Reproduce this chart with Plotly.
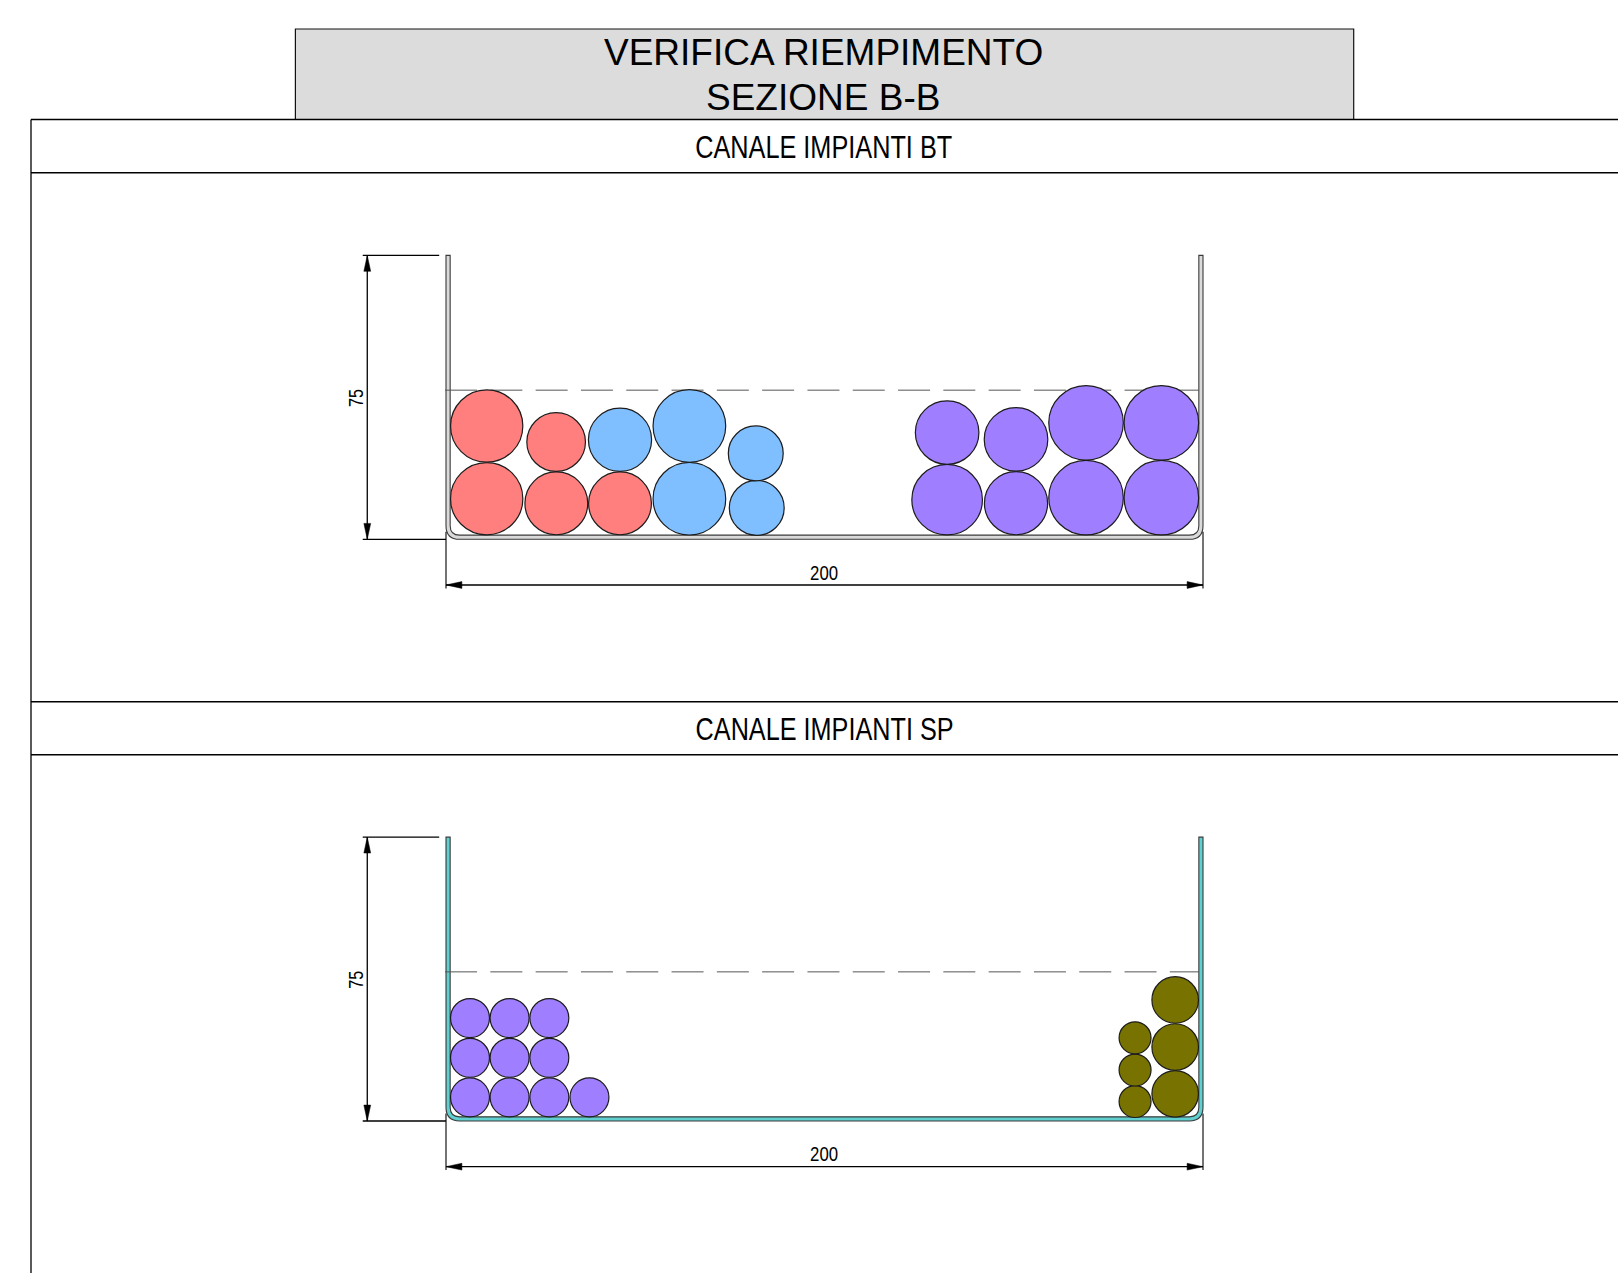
import plotly.graph_objects as go

# --- page size and drawing scale -------------------------------------------
PAGE_W, PAGE_H = 1618, 1273
PX_PER_MM = 3.785
ORIGIN_X_PX = 446.0
BT_BASE_PX = 539.3
SP_BASE_PX = 1121.0

# --- texts ------------------------------------------------------------------
TITLE_LINES = ["VERIFICA RIEMPIMENTO", "SEZIONE B-B"]
SECTION_TITLES = ["CANALE IMPIANTI BT", "CANALE IMPIANTI SP"]
DIM_WIDTH_LABEL = "200"
DIM_HEIGHT_LABEL = "75"

# --- channel dimensions (mm) ------------------------------------------------
CH_W, CH_H = 200.0, 75.0
CH_T = 1.1
CH_R = 3.6
FILL_LEVEL = 39.4

# --- cables: canal BT (mm) --------------------------------------------------
bt_red_x = [10.75, 10.75, 29.15, 29.1, 45.97]
bt_red_y = [10.73, 29.93, 9.5, 25.7, 9.5]
bt_red_d = [19.2, 19.2, 16.7, 15.6, 16.7]

bt_blue_x = [45.97, 64.3, 64.3, 82.1, 81.84]
bt_blue_y = [26.3, 10.73, 29.93, 8.3, 22.7]
bt_blue_d = [16.8, 19.3, 19.3, 14.6, 14.6]

bt_purple_x = [132.4, 132.4, 150.6, 150.6, 169.1, 169.1, 189.0, 189.0]
bt_purple_y = [10.47, 28.2, 9.55, 26.4, 11.0, 30.77, 11.0, 30.77]
bt_purple_d = [18.76, 16.9, 16.8, 16.9, 19.8, 19.8, 19.8, 19.8]

# --- cables: canal SP (mm) --------------------------------------------------
sp_purple_x = [6.34, 16.8, 27.3, 37.9, 6.34, 16.8, 27.3, 6.34, 16.8, 27.3]
sp_purple_y = [6.25, 6.25, 6.25, 6.25, 16.7, 16.7, 16.7, 27.2, 27.2, 27.2]
sp_purple_d = [10.4] * 10

sp_olive_x = [192.65, 192.65, 192.65, 182.05, 182.05, 182.05]
sp_olive_y = [7.18, 19.55, 31.97, 5.15, 13.47, 21.97]
sp_olive_d = [12.4, 12.4, 12.4, 8.55, 8.55, 8.55]

RED, BLUE, PURPLE, OLIVE = "#FF7F7F", "#7FBFFF", "#9F7FFF", "#787300"
CH_GREY, CH_TEAL = "#DADADA", "#5FCFCF"
INK = "#000000"
OUT = "#3A3A3A"


def px_x(px):
    return px / PAGE_W


def px_y(py):
    return 1 - py / PAGE_H


def channel_path():
    w, h, t, r = CH_W, CH_H, CH_T, CH_R
    ri = r - t
    return (
        f"M 0 {h} L 0 {r} Q 0 0 {r} 0 L {w - r} 0 Q {w} 0 {w} {r} L {w} {h} "
        f"L {w - t} {h} L {w - t} {t + ri} Q {w - t} {t} {w - t - ri} {t} "
        f"L {t + ri} {t} Q {t} {t} {t} {t + ri} L {t} {h} Z"
    )


fig = go.Figure()


def add_cables(xs, ys, ds, color, yaxis, name):
    fig.add_trace(
        go.Scatter(
            x=xs, y=ys, mode="markers", yaxis=yaxis, name=name,
            marker=dict(
                size=[d * PX_PER_MM - 0.4 for d in ds], sizemode="diameter",
                color=color, line=dict(color="#1c1c1c", width=1.2), opacity=1,
            ),
            hoverinfo="skip", showlegend=False,
        )
    )


add_cables(bt_red_x, bt_red_y, bt_red_d, RED, "y", "BT rosso")
add_cables(bt_blue_x, bt_blue_y, bt_blue_d, BLUE, "y", "BT azzurro")
add_cables(bt_purple_x, bt_purple_y, bt_purple_d, PURPLE, "y", "BT viola")
add_cables(sp_purple_x, sp_purple_y, sp_purple_d, PURPLE, "y2", "SP viola")
add_cables(sp_olive_x, sp_olive_y, sp_olive_d, OLIVE, "y2", "SP oliva")

shapes = []
annotations = []


def line_paper(x0, y0, x1, y1, width=1.5):
    shapes.append(dict(type="line", xref="paper", yref="paper",
                       x0=px_x(x0), y0=px_y(y0), x1=px_x(x1), y1=px_y(y1),
                       line=dict(color=INK, width=width), layer="below"))


# title box and section frames
shapes.append(dict(type="rect", xref="paper", yref="paper",
                   x0=px_x(295.4), x1=px_x(1353.7), y0=px_y(29), y1=px_y(119.5),
                   fillcolor="#DCDCDC", line=dict(color="#111111", width=1.2), layer="below"))
line_paper(31, 119.5, 31, PAGE_H, 1.3)
for py in (119.5, 172.7, 701.7, 754.7):
    line_paper(31, py, PAGE_W, py, 1.4)


def text(s, x, y, size, angle=0, xref="paper", yref="paper"):
    annotations.append(dict(text=s, x=x, y=y, xref=xref, yref=yref, showarrow=False,
                            xanchor="center", yanchor="middle", textangle=angle,
                            font=dict(family="Liberation Sans", size=size, color="#000000")))


text(TITLE_LINES[0], px_x(823.3), px_y(52.3), 37)
text(TITLE_LINES[1], px_x(823.3), px_y(97.2), 37)
text(SECTION_TITLES[0], px_x(823.6), px_y(147), 32)
text(SECTION_TITLES[1], px_x(824), px_y(728.7), 32)

DIM_X = -20.8
DIM_Y = -12.07
A_L, A_W = 4.2, 0.9


def add_channel(yref, fill):
    def seg(x0, y0, x1, y1, w=1.0, color=INK, dash=None):
        shapes.append(dict(type="line", xref="x", yref=yref, x0=x0, y0=y0, x1=x1, y1=y1,
                           line=dict(color=color, width=w, dash=dash), layer="below"))

    def tri(p):
        shapes.append(dict(type="path", xref="x", yref=yref, path=p,
                           fillcolor=INK, line=dict(color=INK, width=0.5), layer="below"))

    shapes.append(dict(type="path", xref="x", yref=yref, path=channel_path(),
                       fillcolor=fill, line=dict(color=OUT, width=1.1), layer="below"))
    # fill level
    seg(-0.25, FILL_LEVEL, CH_W - CH_T, FILL_LEVEL, 1.0, "#555555", "32px,13.3px")
    # height dimension
    seg(-22, CH_H, -1.8, CH_H, 1.3)
    seg(-22, 0, 0, 0, 1.3)
    seg(DIM_X, 0, DIM_X, CH_H, 1.3)
    tri(f"M {DIM_X} {CH_H} L {DIM_X - A_W} {CH_H - A_L} L {DIM_X + A_W} {CH_H - A_L} Z")
    tri(f"M {DIM_X} 0 L {DIM_X - A_W} {A_L} L {DIM_X + A_W} {A_L} Z")
    # width dimension
    seg(0, 2, 0, DIM_Y - 0.9, 1.1)
    seg(CH_W, 2, CH_W, DIM_Y - 0.9, 1.1)
    seg(0, DIM_Y, CH_W, DIM_Y, 1.3)
    tri(f"M 0 {DIM_Y} L {A_L} {DIM_Y + A_W} L {A_L} {DIM_Y - A_W} Z")
    tri(f"M {CH_W} {DIM_Y} L {CH_W - A_L} {DIM_Y + A_W} L {CH_W - A_L} {DIM_Y - A_W} Z")
    text(DIM_WIDTH_LABEL, CH_W / 2 - 0.2, DIM_Y + 3.4, 20.5, xref="x", yref=yref)
    text(DIM_HEIGHT_LABEL, -24.0, 37.2, 21, angle=-90, xref="x", yref=yref)


add_channel("y", CH_GREY)
add_channel("y2", CH_TEAL)

xr = [-ORIGIN_X_PX / PX_PER_MM, (PAGE_W - ORIGIN_X_PX) / PX_PER_MM]
fig.update_layout(
    width=PAGE_W, height=PAGE_H, margin=dict(l=0, r=0, t=0, b=0, pad=0),
    paper_bgcolor="white", plot_bgcolor="white", showlegend=False,
    shapes=shapes, annotations=annotations,
    xaxis=dict(range=xr, visible=False, domain=[0, 1], fixedrange=True),
    yaxis=dict(range=[(BT_BASE_PX - PAGE_H) / PX_PER_MM, BT_BASE_PX / PX_PER_MM],
               visible=False, domain=[0, 1], fixedrange=True),
    yaxis2=dict(range=[(SP_BASE_PX - PAGE_H) / PX_PER_MM, SP_BASE_PX / PX_PER_MM],
                visible=False, domain=[0, 1], overlaying="y", fixedrange=True),
)

# the drawing's lettering is condensed: fit each label to its measured length
NARROW = """
document.body.style.margin='0';document.body.style.overflow='hidden';
function narrowText(){
  var L={'CANALE IMPIANTI BT':257,'CANALE IMPIANTI SP':258,'200':28,'75':18};
  document.querySelectorAll('.annotation-text').forEach(function(t){
    var w=L[t.textContent];
    if(w){t.setAttribute('textLength',w);t.setAttribute('lengthAdjust','spacingAndGlyphs');}
  });
}
narrowText();setTimeout(narrowText,50);setTimeout(narrowText,300);
"""
fig.write_html("out.html", config={"displayModeBar": False}, post_script=NARROW)
